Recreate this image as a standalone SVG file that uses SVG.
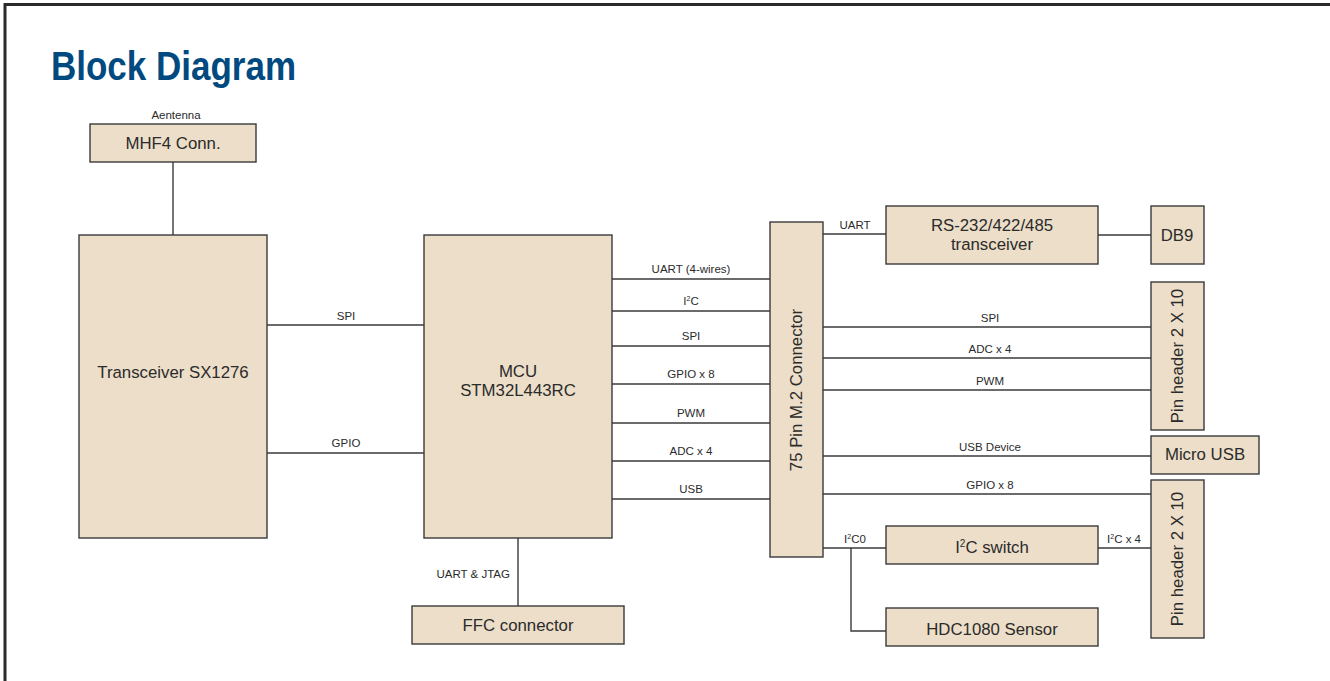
<svg xmlns="http://www.w3.org/2000/svg" width="1330" height="681" viewBox="0 0 1330 681">
<style>
.box{fill:#ecdec8;stroke:#3a3a3a;stroke-width:1.4}
.ln{fill:none;stroke:#3a3a3a;stroke-width:1.4}
.t{font-family:"Liberation Sans",Arial,sans-serif;font-size:16.8px;fill:#2b2b2b;text-anchor:middle}
.l{font-family:"Liberation Sans",Arial,sans-serif;font-size:11.5px;fill:#2b2b2b;text-anchor:middle}
.title{font-family:"Liberation Sans",Arial,sans-serif;font-weight:bold;font-size:41px;fill:#004a7f}
</style>
<rect width="1330" height="681" fill="#ffffff"/>
<path d="M5,681 V4.5 H1330" fill="none" stroke="#2a2a2a" stroke-width="3"/>
<text class="title" x="51" y="80" textLength="245" lengthAdjust="spacingAndGlyphs">Block Diagram</text>

<g id="connectors">
<path class="ln" d="M173,162 V235"/>
<path class="ln" d="M267,325 H424"/>
<path class="ln" d="M267,453 H424"/>
<path class="ln" d="M612,279 H770"/>
<path class="ln" d="M612,311 H770"/>
<path class="ln" d="M612,346 H770"/>
<path class="ln" d="M612,384 H770"/>
<path class="ln" d="M612,423 H770"/>
<path class="ln" d="M612,461 H770"/>
<path class="ln" d="M612,499 H770"/>
<path class="ln" d="M518,538 V606"/>
<path class="ln" d="M823,234 H886"/>
<path class="ln" d="M1098,235 H1151"/>
<path class="ln" d="M823,327 H1151"/>
<path class="ln" d="M823,358 H1151"/>
<path class="ln" d="M823,390 H1151"/>
<path class="ln" d="M823,456 H1151"/>
<path class="ln" d="M823,494 H1151"/>
<path class="ln" d="M823,548 H886"/>
<path class="ln" d="M851,548 V631 H886"/>
<path class="ln" d="M1098,548 H1151"/>
<text class="l" x="176" y="119">Aentenna</text>
<text class="l" x="346" y="320">SPI</text>
<text class="l" x="346" y="447">GPIO</text>
<text class="l" x="691" y="273">UART (4-wires)</text>
<text class="l" x="691" y="305">I<tspan font-size="7" dy="-4">2</tspan><tspan dy="4">C</tspan></text>
<text class="l" x="691" y="340">SPI</text>
<text class="l" x="691" y="378">GPIO x 8</text>
<text class="l" x="691" y="417">PWM</text>
<text class="l" x="691" y="455">ADC x 4</text>
<text class="l" x="691" y="493">USB</text>
<text class="l" x="510" y="578" style="text-anchor:end">UART &amp; JTAG</text>
<text class="l" x="855" y="229">UART</text>
<text class="l" x="990" y="322">SPI</text>
<text class="l" x="990" y="353">ADC x 4</text>
<text class="l" x="990" y="385">PWM</text>
<text class="l" x="990" y="451">USB Device</text>
<text class="l" x="990" y="489">GPIO x 8</text>
<text class="l" x="855" y="543">I<tspan font-size="7" dy="-4">2</tspan><tspan dy="4">C0</tspan></text>
<text class="l" x="1124" y="543">I<tspan font-size="7" dy="-4">2</tspan><tspan dy="4">C x 4</tspan></text>
</g>

<g id="mhf4"><rect class="box" x="90" y="124" width="166" height="38"/><text class="t" x="173" y="149">MHF4 Conn.</text></g>
<g id="transceiver"><rect class="box" x="79" y="235" width="188" height="303"/><text class="t" x="173" y="378">Transceiver SX1276</text></g>
<g id="mcu"><rect class="box" x="424" y="235" width="188" height="303"/><text class="t" x="518" y="377">MCU</text><text class="t" x="518" y="396">STM32L443RC</text></g>
<g id="ffc"><rect class="box" x="412" y="606" width="212" height="38"/><text class="t" x="518" y="631">FFC connector</text></g>
<g id="m2"><rect class="box" x="770" y="222" width="53" height="335"/><text class="t" transform="translate(802,390) rotate(-90)">75 Pin M.2 Connector</text></g>
<g id="rs232"><rect class="box" x="886" y="206" width="212" height="58"/><text class="t" x="992" y="231">RS-232/422/485</text><text class="t" x="992" y="250">transceiver</text></g>
<g id="db9"><rect class="box" x="1151" y="206" width="53" height="58"/><text class="t" x="1177" y="241">DB9</text></g>
<g id="pinheader1"><rect class="box" x="1151" y="282" width="53" height="148"/><text class="t" transform="translate(1183,356) rotate(-90)">Pin header 2 X 10</text></g>
<g id="microusb"><rect class="box" x="1151" y="436" width="108" height="38"/><text class="t" x="1205" y="460">Micro USB</text></g>
<g id="pinheader2"><rect class="box" x="1151" y="480" width="53" height="158"/><text class="t" transform="translate(1183,559) rotate(-90)">Pin header 2 X 10</text></g>
<g id="i2cswitch"><rect class="box" x="886" y="526" width="212" height="38"/><text class="t" x="992" y="553">I<tspan font-size="10" dy="-6">2</tspan><tspan dy="6">C switch</tspan></text></g>
<g id="hdc1080"><rect class="box" x="886" y="608" width="212" height="38"/><text class="t" x="992" y="635">HDC1080 Sensor</text></g>
</svg>
